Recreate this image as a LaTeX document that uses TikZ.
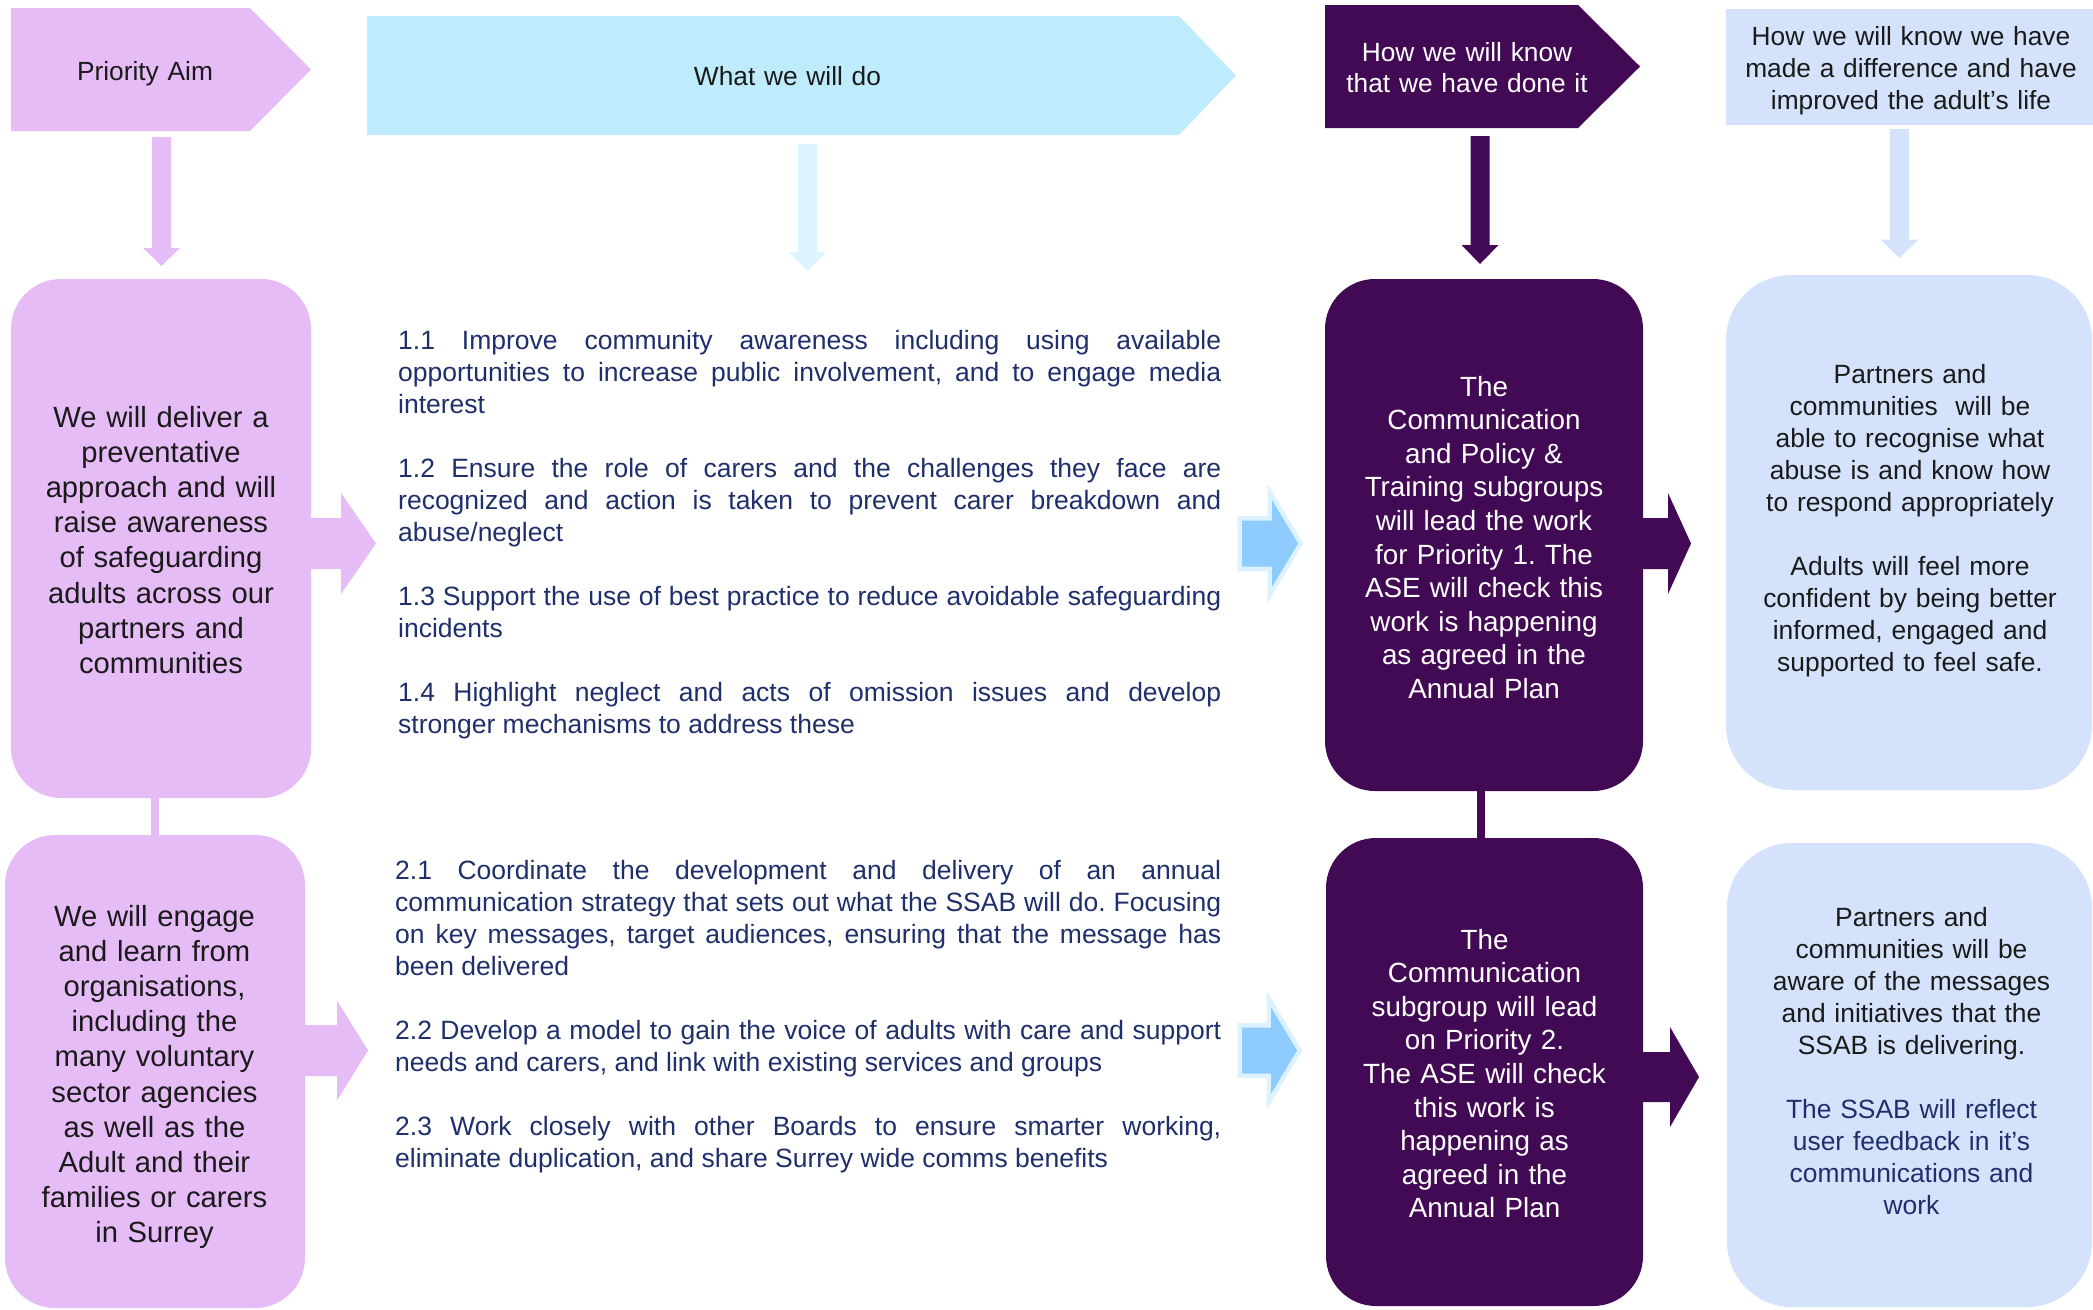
\documentclass[tikz,border=0pt]{standalone}
\usepackage{fontspec}
\setmainfont{Liberation Sans}
\frenchspacing
\hyphenpenalty=10000
\exhyphenpenalty=10000
\definecolor{pinkc}{HTML}{E6BCF7}
\definecolor{cyanc}{HTML}{BFECFD}
\definecolor{palecyan}{HTML}{DDF5FE}
\definecolor{dpurple}{HTML}{420A54}
\definecolor{paleblue}{HTML}{D5E2FC}
\definecolor{arrblue}{HTML}{8ECBFE}
\definecolor{arrout}{HTML}{DDF2FF}
\definecolor{navy}{HTML}{1F2F6B}
\definecolor{txtblack}{HTML}{1A1A1A}
% right-pointing block arrow: x0, yc, xhead, xtip, half shaft, half head, style
\newcommand\RArr[7]{\path[#7] ({#1},{#2-#5}) -- ({#3},{#2-#5}) -- ({#3},{#2-#6}) -- ({#4},{#2}) -- ({#3},{#2+#6}) -- ({#3},{#2+#5}) -- ({#1},{#2+#5}) -- cycle;}
% down-pointing block arrow: xc, y0, yhead, ytip, half shaft, half head, style
\newcommand\DArr[7]{\path[#7] ({#1-#5},{#2}) -- ({#1-#5},{#3}) -- ({#1-#6},{#3}) -- ({#1},{#4}) -- ({#1+#6},{#3}) -- ({#1+#5},{#3}) -- ({#1+#5},{#2}) -- cycle;}
\begin{document}
\begin{tikzpicture}[x=1pt,y=-1pt,
  box/.style={rectangle, rounded corners=50pt, inner sep=0pt, draw=none},
  hdrtext/.style={inner sep=0pt, align=center, text width=#1, font=\fontsize{26.3}{31}\selectfont, anchor=base},
  ltext/.style={inner sep=0pt, align=center, text width=290pt, font=\fontsize{29.2}{35.2}\selectfont, text=txtblack, anchor=base},
  mtext/.style={inner sep=0pt, align=center, text width=312pt, font=\fontsize{27.8}{33.6}\selectfont, text=white, anchor=base},
  rtext/.style={inner sep=0pt, align=center, text width=350pt, font=\fontsize{26.4}{32}\selectfont, text=txtblack, anchor=base},
  ptext/.style={inner sep=0pt, align=justify, font=\fontsize{26.5}{32}\selectfont, text=navy, anchor=base west},
  link/.style={line width=8pt}
]
\useasboundingbox (0,0) rectangle (2093,1309);
\fill[white] (0,0) rectangle (2093,1309);

% ---- header shapes ----
\fill[pinkc] (11,8) -- (250,8) -- (311,69.5) -- (250,131) -- (11,131) -- cycle;
\fill[cyanc] (367,16) -- (1179,16) -- (1236,75.5) -- (1179,135) -- (367,135) -- cycle;
\fill[dpurple] (1325,5) -- (1578,5) -- (1640,66.5) -- (1578,128) -- (1325,128) -- cycle;
\fill[paleblue] (1726,9) rectangle (2093,125);

\node[hdrtext=280pt, text=txtblack] (h1) at (145,80) {Priority Aim};
\node[hdrtext=400pt, text=txtblack] (h2) at (787.5,85.5) {What we will do};
\node[hdrtext=300pt, text=white] (h3) at (1467,61.5) {How we will know\\that we have done it};
\node[hdrtext=360pt, text=txtblack, font=\fontsize{26.3}{32}\selectfont] (h4) at (1911,45.3) {How we will know we have\\made a difference and have\\improved the adult’s life};

% ---- down arrows under headers ----
\DArr{161.5}{137}{248}{266}{9.5}{18.5}{fill=pinkc}
\DArr{807.5}{144}{252}{271}{9.5}{18.5}{fill=palecyan}
\DArr{1480}{136}{245}{264}{9.5}{18.5}{fill=dpurple}
\DArr{1899.5}{129}{239.5}{258}{9.5}{19}{fill=paleblue}

% ---- boxes ----
\node[box, fill=pinkc, minimum width=300pt, minimum height=519pt] (l1) at (161,538.5) {};
\node[box, fill=pinkc, minimum width=300pt, minimum height=473pt] (l2) at (155,1071.5) {};
\node[box, fill=dpurple, minimum width=318pt, minimum height=512pt] (m1) at (1484,535) {};
\node[box, fill=dpurple, minimum width=317pt, minimum height=468pt] (m2) at (1484.5,1072) {};
\node[box, rounded corners=65pt, fill=paleblue, minimum width=366pt, minimum height=515pt] (r1) at (1909,532.5) {};
\node[box, rounded corners=65pt, fill=paleblue, minimum width=365pt, minimum height=464pt] (r2) at (1909.5,1075) {};

% ---- links between stacked boxes ----
\draw[link, pinkc] (l1.south -| l2.north) -- (l2.north);
\draw[link, dpurple] ([xshift=-3pt]m1.south) -- ([xshift=-3pt]m1.south |- m2.north);

% ---- side arrows ----
\RArr{305}{543.5}{341}{376}{25.5}{50.5}{fill=pinkc}
\RArr{300}{1050.5}{337}{368}{25.5}{50}{fill=pinkc}
\RArr{1638}{543.5}{1668}{1691}{25.5}{50.5}{fill=dpurple}
\RArr{1638}{1077}{1670}{1699}{25}{50}{fill=dpurple}
\RArr{1242}{543.5}{1272}{1298}{23}{43.5}{fill=arrout, draw=arrout, line width=9pt, line join=miter}
\RArr{1242}{543.5}{1272}{1298}{23}{43.5}{fill=arrblue}
\RArr{1242}{1050.5}{1271}{1297}{23}{43.5}{fill=arrout, draw=arrout, line width=9pt, line join=miter}
\RArr{1242}{1050.5}{1271}{1297}{23}{43.5}{fill=arrblue}

% ---- box texts ----
\node[ltext] (tl1) at (161,427) {We will deliver a\\preventative\\approach and will\\raise awareness\\of safeguarding\\adults across our\\partners and\\communities};
\node[ltext] (tl2) at (154.5,926) {We will engage\\and learn from\\organisations,\\including the\\many voluntary\\sector agencies\\as well as the\\Adult and their\\families or carers\\in Surrey};
\node[mtext] (tm1) at (1484,396) {The\\Communication\\and Policy \&\\Training subgroups\\will lead the work\\for Priority 1. The\\ASE will check this\\work is happening\\as agreed in the\\Annual Plan};
\node[mtext] (tm2) at (1484.5,949) {The\\Communication\\subgroup will lead\\on Priority 2.\\The ASE will check\\this work is\\happening as\\agreed in the\\Annual Plan};
\node[rtext] (tr1) at (1910,383.3) {Partners and\\communities\ \ will be\\able to recognise what\\abuse is and know how\\to respond appropriately\\[32pt]Adults will feel more\\confident by being better\\informed, engaged and\\supported to feel safe.};
\node[rtext] (tr2) at (1911.5,926.7) {Partners and\\communities will be\\aware of the messages\\and initiatives that the\\SSAB is delivering.\\[32pt]\color{navy}The SSAB will reflect\\user feedback in it’s\\communications and\\work};

% ---- what we will do: paragraphs ----
\node[ptext, text width=823pt] (p11) at (398,349.3) {1.1 Improve community awareness including using available\linebreak opportunities to increase public involvement, and to engage media\linebreak interest};
\node[ptext, text width=823pt] (p12) at (398,477.3) {1.2 Ensure the role of carers and the challenges they face are\linebreak recognized and action is taken to prevent carer breakdown and\linebreak abuse/neglect};
\node[ptext, text width=823pt] (p13) at (398,605.3) {1.3 Support the use of best practice to reduce avoidable safeguarding\linebreak incidents};
\node[ptext, text width=823pt] (p14) at (398,701.3) {1.4 Highlight neglect and acts of omission issues and develop\linebreak stronger mechanisms to address these};
\node[ptext, text width=826pt] (p21) at (395,879.3) {2.1 Coordinate the development and delivery of an annual\linebreak communication strategy that sets out what the SSAB will do. Focusing\linebreak on key messages, target audiences, ensuring that the message has\linebreak been delivered};
\node[ptext, text width=826pt] (p22) at (395,1039.3) {2.2 Develop a model to gain the voice of adults with care and support\linebreak needs and carers, and link with existing services and groups};
\node[ptext, text width=826pt] (p23) at (395,1135.3) {2.3 Work closely with other Boards to ensure smarter working,\linebreak eliminate duplication, and share Surrey wide comms benefits};
\end{tikzpicture}
\end{document}
